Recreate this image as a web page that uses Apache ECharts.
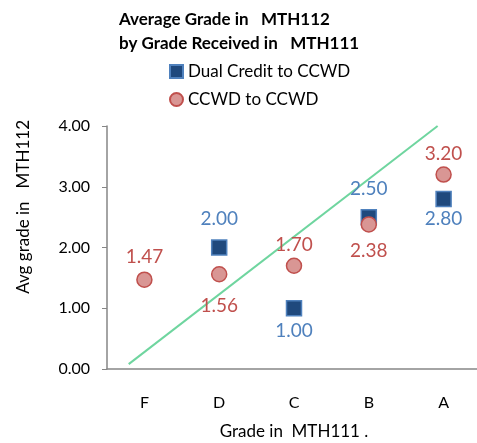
<!DOCTYPE html>
<html><head><meta charset="utf-8">
<script src="https://cdn.jsdelivr.net/npm/echarts@6/dist/echarts.min.js"></script>
<style>html,body{margin:0;padding:0;background:#fff}#c{width:477px;height:443px}</style>
</head><body><div id="c"></div>
<script>
const categories = ['F', 'D', 'C', 'B', 'A'];
const dualCredit = [null, 2.00, 1.00, 2.50, 2.80];
const ccwd = [1.47, 1.56, 1.70, 2.38, 3.20];
const refLineX = [-0.21, 3.92];
const refLineY = [0.08, 4.00];

// label vertical offsets (style only)
const dualLabelDy = [0, -29, 23, -28, 20];
const ccwdLabelDy = [-23, 32, -21, 26, -21];

const FONT = 'Lato';
const chart = echarts.init(document.getElementById('c'));
const mk = (vals, dys, color) => vals.map((v, i) => v == null ? null : ({
  value: [categories[i], v],
  label: {show: true, position: 'inside', offset: [0, dys[i]], color: color,
          fontSize: 19, fontFamily: FONT, formatter: p => p.value[1].toFixed(2)}
}));
chart.setOption({
  animation: false,
  textStyle: {fontFamily: FONT},
  title: {
    text: 'Average Grade in   MTH112\nby Grade Received in   MTH111',
    left: 114, top: 3,
    textStyle: {fontFamily: FONT, fontWeight: 'bold', fontSize: 17, color: '#000', lineHeight: 24}
  },
  legend: {
    orient: 'vertical', left: 164, top: 58, itemGap: 11,
    itemWidth: 13, itemHeight: 13,
    textStyle: {fontFamily: FONT, fontSize: 17, color: '#000'},
    data: [
      {name: 'Dual Credit to CCWD', icon: 'rect'},
      {name: 'CCWD to CCWD', icon: 'circle'}
    ]
  },
  grid: {left: 107, top: 126, width: 374, height: 243, outerBoundsMode: 'none', containLabel: false},
  xAxis: [{
    type: 'category', data: categories, boundaryGap: true,
    axisLine: {lineStyle: {color: '#868686', width: 1.5}},
    axisTick: {alignWithLabel: true, length: 4, lineStyle: {color: '#868686'}},
    axisLabel: {color: '#000', fontSize: 16, margin: 26, fontFamily: FONT},
    name: 'Grade in  MTH111 .', nameLocation: 'middle', nameGap: 54,
    nameTextStyle: {color: '#000', fontSize: 17, fontFamily: FONT}
  }, {
    type: 'value', min: -0.5, max: 4.5, show: false
  }],
  yAxis: {
    type: 'value', min: 0, max: 4, interval: 1,
    splitLine: {show: false},
    axisLine: {show: true, onZero: false, lineStyle: {color: '#868686', width: 1.5}},
    axisTick: {show: true, length: 5, lineStyle: {color: '#868686'}},
    axisLabel: {color: '#000', fontSize: 16, margin: 17, fontFamily: FONT,
                formatter: v => v.toFixed(2)}
  },
  graphic: [{
    type: 'text', left: 15, top: 120, rotation: Math.PI / 2,
    style: {text: 'Avg grade in   MTH112', fill: '#000', fontSize: 17, fontFamily: FONT}
  }],
  series: [{
    type: 'line', xAxisIndex: 1, data: refLineX.map((x, i) => [x, refLineY[i]]),
    symbol: 'none', lineStyle: {color: '#6FD59F', width: 2}, z: 1, silent: true
  }, {
    name: 'Dual Credit to CCWD', type: 'scatter', symbol: 'rect', symbolSize: 15,
    itemStyle: {color: '#1F497D', borderColor: '#4F81BD', borderWidth: 1.5, opacity: 1},
    data: mk(dualCredit, dualLabelDy, '#4F81BD'), z: 3
  }, {
    name: 'CCWD to CCWD', type: 'scatter', symbol: 'circle', symbolSize: 15,
    itemStyle: {color: '#D99694', borderColor: '#C0504D', borderWidth: 1.5, opacity: 1},
    data: mk(ccwd, ccwdLabelDy, '#C0504D'), z: 4
  }]
});
</script></body></html>
